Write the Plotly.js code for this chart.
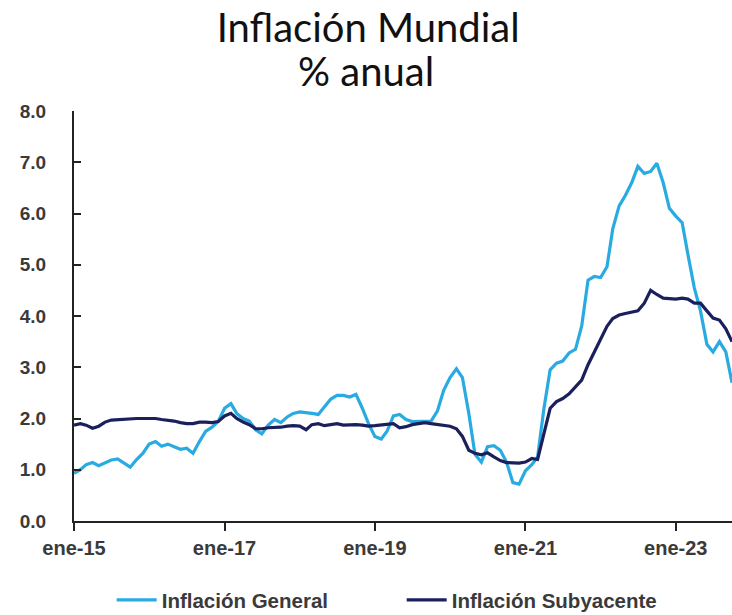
<!DOCTYPE html>
<html>
<head>
<meta charset="utf-8">
<script src="https://cdn.plot.ly/plotly-3.0.1.min.js"></script>
<style>html,body{margin:0;padding:0;background:#fff;}#chart{width:732px;height:615px;}</style>
</head>
<body>
<div id="chart"></div>
<script>
// Monthly, Jan 2015 .. Oct 2023
const startYear = 2015, startMonth = 1, nMonths = 106;
const months = [];
for (let i = 0; i < nMonths; i++) {
  const y = startYear + Math.floor((startMonth - 1 + i) / 12);
  const m = ((startMonth - 1 + i) % 12) + 1;
  months.push(y + '-' + String(m).padStart(2, '0') + '-01');
}

const inflacionGeneral = [
  0.93, 1.00, 1.10, 1.14, 1.08, 1.14, 1.19, 1.21, 1.12, 1.05, 1.20, 1.32,
  1.50, 1.55, 1.46, 1.50, 1.45, 1.40, 1.42, 1.32, 1.55, 1.75, 1.83, 1.94,
  2.20, 2.29, 2.10, 2.00, 1.95, 1.78, 1.70, 1.87, 1.98, 1.92, 2.03, 2.10,
  2.13, 2.12, 2.10, 2.08, 2.22, 2.38, 2.45, 2.45, 2.42, 2.47, 2.20, 1.90,
  1.65, 1.60, 1.75, 2.05, 2.08, 1.98, 1.94, 1.94, 1.94, 1.95, 2.15, 2.55,
  2.80, 2.97, 2.80, 2.10, 1.30, 1.15, 1.45, 1.47, 1.38, 1.15, 0.75, 0.72,
  0.98, 1.10, 1.25, 2.20, 2.95, 3.08, 3.12, 3.28, 3.35, 3.80, 4.70, 4.77,
  4.75, 4.96, 5.70, 6.15, 6.35, 6.60, 6.92, 6.78, 6.82, 6.98, 6.60, 6.10,
  5.95, 5.82, 5.20, 4.55, 4.10, 3.45, 3.30, 3.50, 3.30, 2.70
];

const inflacionSubyacente = [
  1.87, 1.90, 1.87, 1.81, 1.85, 1.93, 1.97, 1.98, 1.99, 2.00, 2.00, 2.00,
  2.00, 2.00, 1.98, 1.97, 1.95, 1.92, 1.90, 1.90, 1.93, 1.93, 1.92, 1.94,
  2.05, 2.10, 2.00, 1.93, 1.88, 1.80, 1.80, 1.82, 1.82, 1.83, 1.85, 1.86,
  1.85, 1.78, 1.88, 1.90, 1.86, 1.88, 1.90, 1.87, 1.88, 1.88, 1.87, 1.85,
  1.86, 1.87, 1.88, 1.90, 1.82, 1.84, 1.88, 1.90, 1.92, 1.90, 1.88, 1.87,
  1.85, 1.80, 1.65, 1.38, 1.32, 1.29, 1.33, 1.25, 1.18, 1.14, 1.13, 1.13,
  1.15, 1.22, 1.20, 1.70, 2.20, 2.33, 2.39, 2.48, 2.62, 2.75, 3.05, 3.30,
  3.55, 3.80, 3.95, 4.02, 4.05, 4.08, 4.10, 4.25, 4.50, 4.42, 4.35, 4.34,
  4.33, 4.35, 4.33, 4.25, 4.25, 4.10, 3.96, 3.92, 3.75, 3.50
];

const xTickVals = ['2015-01-01', '2017-01-01', '2019-01-01', '2021-01-01', '2023-01-01'];
const xTickText = ['ene-15', 'ene-17', 'ene-19', 'ene-21', 'ene-23'];
const yTickVals = [0, 1, 2, 3, 4, 5, 6, 7, 8];
const yTickText = ['0.0', '1.0', '2.0', '3.0', '4.0', '5.0', '6.0', '7.0', '8.0'];

const titleText = 'Inflación Mundial';
const subtitleText = '% anual';

const labelFamily = '"Liberation Sans", Arial, sans-serif';
const xTickFont = {family: labelFamily, size: 20, color: '#3a3a3a', weight: 'bold'};
const yTickFont = {family: labelFamily, size: 19, color: '#3a3a3a', weight: 'bold'};
const legendFont = {family: labelFamily, size: 20.5, color: '#3a3a3a', weight: 'bold'};
const titleFont = {family: 'Lato, "Open Sans", sans-serif', size: 40, color: '#111111'};

const traces = [
  {
    x: months, y: inflacionGeneral, name: 'Inflación General',
    type: 'scatter', mode: 'lines',
    line: {color: '#29ABE2', width: 3.2}
  },
  {
    x: months, y: inflacionSubyacente, name: 'Inflación Subyacente',
    type: 'scatter', mode: 'lines',
    line: {color: '#1B1F5C', width: 3.2}
  }
];

const layout = {
  width: 732, height: 615,
  margin: {l: 74, r: 0, t: 111, b: 94, autoexpand: false},
  paper_bgcolor: '#ffffff', plot_bgcolor: '#ffffff',
  title: {
    text: titleText,
    font: titleFont,
    x: 0.503, xanchor: 'center', xref: 'container',
    y: 0.955, yanchor: 'middle', yref: 'container'
  },
  annotations: [{
    text: subtitleText, font: titleFont, showarrow: false,
    xref: 'paper', yref: 'paper', x: 0.4438, y: 1.098,
    xanchor: 'center', yanchor: 'middle'
  }],
  showlegend: true,
  legend: {
    orientation: 'h', x: 0.498, xanchor: 'center', y: -0.193, yanchor: 'middle',
    font: legendFont, itemwidth: 40, tracegroupgap: 0,
    entrywidth: 235, entrywidthmode: 'pixels'
  },
  xaxis: {
    type: 'date',
    range: ['2015-01-01', '2023-10-01'],
    tickvals: xTickVals, ticktext: xTickText,
    ticks: 'outside', ticklen: 8, tickwidth: 2, tickcolor: '#222222',
    showline: true, linecolor: '#222222', linewidth: 2,
    showgrid: false, zeroline: false, automargin: false,
    tickfont: xTickFont
  },
  yaxis: {
    range: [0, 8],
    tickvals: yTickVals, ticktext: yTickText,
    ticks: 'inside', ticklen: 7, tickwidth: 2, tickcolor: '#222222',
    showline: true, linecolor: '#222222', linewidth: 2,
    showgrid: false, zeroline: false, automargin: false,
    tickfont: yTickFont, ticklabelstandoff: 22
  }
};

Plotly.newPlot('chart', traces, layout, {displayModeBar: false, staticPlot: true});
</script>
</body>
</html>
